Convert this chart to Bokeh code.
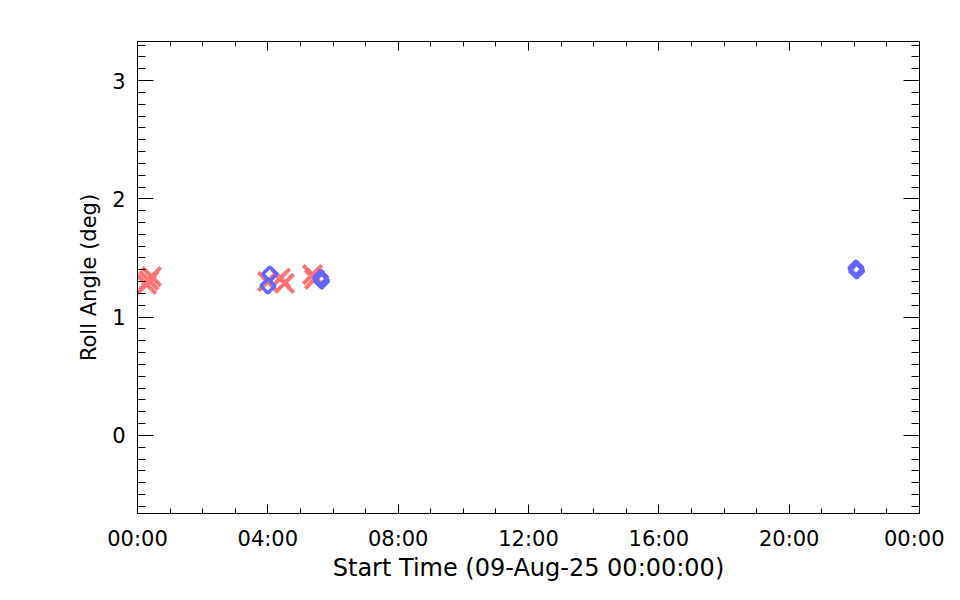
import numpy as np
from bokeh.plotting import figure
from bokeh.models import Range1d, LinearAxis, FixedTicker
from bokeh.embed import file_html
from bokeh.resources import INLINE

# ---- data ----
x_ticks = [0, 4, 8, 12, 16, 20, 24]
x_tick_labels = ["00:00", "04:00", "08:00", "12:00", "16:00", "20:00", "00:00"]
y_ticks = [0, 1, 2, 3]
y_tick_labels = ["0", "1", "2", "3"]

# red crosses (hours after 09-Aug-25 00:00:00, roll angle deg)
red_hours = [0.28, 0.35, 0.43, 3.99, 4.39, 4.51, 5.37, 5.43]
red_roll = [1.276, 1.31, 1.343, 1.30, 1.33, 1.285, 1.36, 1.32]

# blue diamonds
blue_hours = [4.06, 4.00, 5.62, 5.65, 22.05, 22.07]
blue_roll = [1.364, 1.264, 1.335, 1.305, 1.415, 1.39]

RED = "#FF7373"
BLUE = "#6464FF"
FONT = "DejaVu Sans"

p = figure(width=944, height=584, output_backend="svg", toolbar_location=None,
           x_range=Range1d(0, 24), y_range=Range1d(-0.66, 3.33),
           min_border_left=137, min_border_right=25,
           min_border_top=41, min_border_bottom=67,
           x_axis_location=None, y_axis_location=None)
p.xgrid.visible = False
p.ygrid.visible = False
p.outline_line_color = "black"
p.outline_line_width = 1
p.background_fill_color = "white"
p.border_fill_color = "white"

x_minor = [h for h in range(0, 25) if h % 4 != 0]
y_minor = [round(v, 1) for v in np.arange(-0.6, 3.31, 0.1) if abs(v - round(v)) > 1e-6]
xt = FixedTicker(ticks=x_ticks, minor_ticks=x_minor)
yt = FixedTicker(ticks=y_ticks, minor_ticks=y_minor)


def style(ax, major, minor, labels):
    ax.major_tick_in = major
    ax.major_tick_out = 0
    ax.minor_tick_in = minor
    ax.minor_tick_out = 0
    ax.major_tick_line_color = "black"
    ax.minor_tick_line_color = "black"
    ax.axis_line_color = "black"
    if not labels:
        ax.major_label_text_font_size = "0px"
        ax.major_label_text_alpha = 0
        ax.major_label_standoff = 0


xb = LinearAxis(ticker=xt, major_label_overrides={t: l for t, l in zip(x_ticks, x_tick_labels)},
                axis_label="Start Time (09-Aug-25 00:00:00)")
style(xb, 9, 5, True)
xb.major_label_text_font = FONT
xb.major_label_text_font_size = "21px"
xb.major_label_text_color = "black"
xb.major_label_standoff = 13
xb.axis_label_text_font = FONT
xb.axis_label_text_font_size = "24px"
xb.axis_label_text_font_style = "normal"
xb.axis_label_text_color = "black"
xb.axis_label_standoff = 0
p.add_layout(xb, "below")

xa = LinearAxis(ticker=xt)
style(xa, 9, 5, False)
p.add_layout(xa, "above")

yl = LinearAxis(ticker=yt, major_label_overrides={t: l for t, l in zip(y_ticks, y_tick_labels)},
                axis_label="Roll Angle (deg)")
style(yl, 16, 8, True)
yl.major_label_text_font = FONT
yl.major_label_text_font_size = "21px"
yl.major_label_text_color = "black"
yl.major_label_standoff = 12
yl.axis_label_text_font = FONT
yl.axis_label_text_font_size = "21px"
yl.axis_label_text_font_style = "normal"
yl.axis_label_text_color = "black"
yl.axis_label_standoff = 8
p.add_layout(yl, "left")

yr = LinearAxis(ticker=yt)
style(yr, 16, 8, False)
p.add_layout(yr, "right")

p.scatter(red_hours, red_roll, marker="x", size=26, line_color=RED, line_width=4)
p.scatter(blue_hours, blue_roll, marker="square", angle=np.pi / 4, size=10,
          fill_color=None, line_color=BLUE, line_width=3.5)

open("out.html", "w").write(file_html(p, INLINE))
